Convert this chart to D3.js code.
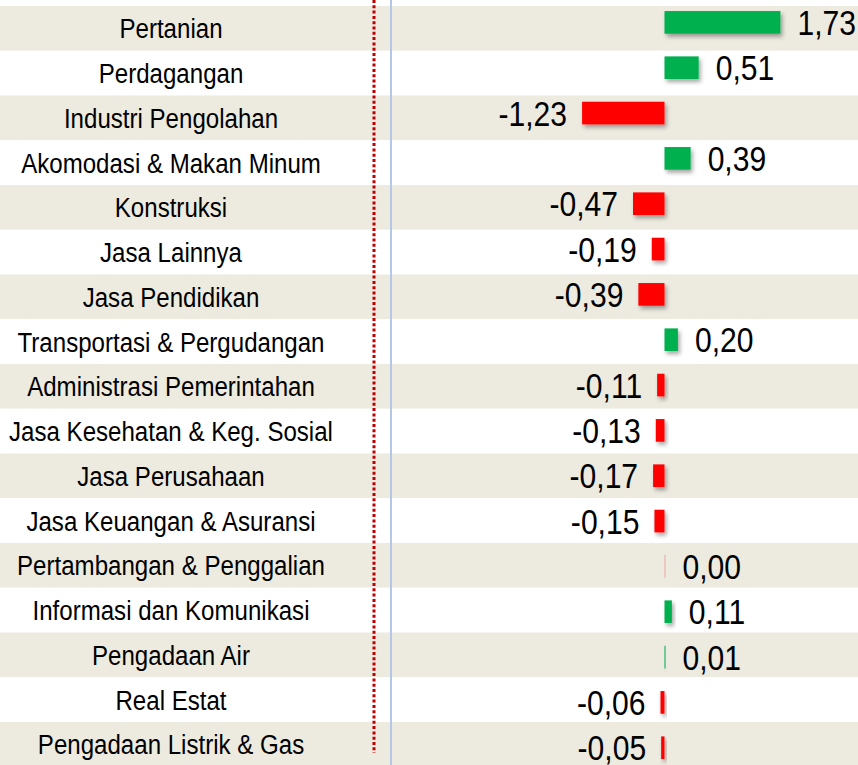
<!DOCTYPE html>
<html lang="id">
<head>
    <meta charset="UTF-8">
    <title>Andil sektor</title>
    <script src="https://d3js.org/d3.v7.min.js"></script>
    <style>
        body {
            margin: 0;
            padding: 0;
            background: #fff;
        }
        svg {
            display: block;
        }
        .cat {
            font-family: "Liberation Sans", Arial, sans-serif;
            font-size: 28px;
            fill: #000;
            text-anchor: middle;
        }
        .val {
            font-family: "Liberation Sans", Arial, sans-serif;
            font-size: 35px;
            fill: #000;
        }
    </style>
</head>
<body>
    <div id="chart"></div>

    <script>
        // sektor dan nilai andil
        const categories = [
            "Pertanian",
            "Perdagangan",
            "Industri Pengolahan",
            "Akomodasi & Makan Minum",
            "Konstruksi",
            "Jasa Lainnya",
            "Jasa Pendidikan",
            "Transportasi & Pergudangan",
            "Administrasi Pemerintahan",
            "Jasa Kesehatan & Keg. Sosial",
            "Jasa Perusahaan",
            "Jasa Keuangan & Asuransi",
            "Pertambangan & Penggalian",
            "Informasi dan Komunikasi",
            "Pengadaan Air",
            "Real Estat",
            "Pengadaan Listrik & Gas"
        ];
        const values = [1.73, 0.51, -1.23, 0.39, -0.47, -0.19, -0.39, 0.20, -0.11, -0.13, -0.17, -0.15, 0.00, 0.11, 0.01, -0.06, -0.05];

        const width = 858;
        const height = 765;
        const narrow = 0.86; // tiru huruf Arial Narrow

        const svg = d3.select("#chart")
            .append("svg")
            .attr("width", width)
            .attr("height", height);

        // bayangan batang
        const filter = svg.append("defs").append("filter")
            .attr("id", "shadow")
            .attr("x", "-50%").attr("y", "-50%")
            .attr("width", "200%").attr("height", "200%");
        filter.append("feDropShadow")
            .attr("dx", 2)
            .attr("dy", 3)
            .attr("stdDeviation", 2)
            .attr("flood-color", "#000")
            .attr("flood-opacity", 0.35);

        // baris latar (label kategori)
        const rowScale = d3.scaleBand()
            .domain(categories)
            .range([6, 6 + 17 * 44.75]);

        // posisi batang sedikit berbeda dari baris latar
        const barScale = d3.scaleBand()
            .domain(categories)
            .range([-0.27, 770.4])
            .paddingInner(0.5)
            .paddingOuter(0.25);

        const x = d3.scaleLinear()
            .domain([-2, 2.5])
            .range([530.5, 832]);

        const locale = d3.formatLocale({
            decimal: ",",
            thousands: ".",
            grouping: [3],
            currency: ["", ""],
            minus: "-"
        });
        const fmt = locale.format(".2f");

        // latar bergaris
        svg.selectAll("rect.row")
            .data(categories)
            .enter()
            .append("rect")
            .attr("class", "row")
            .attr("x", 0)
            .attr("y", d => rowScale(d))
            .attr("width", width)
            .attr("height", rowScale.bandwidth())
            .attr("fill", (d, i) => i % 2 === 0 ? "#edeae0" : "#ffffff");

        // garis pemisah
        svg.append("line")
            .attr("x1", 374).attr("x2", 374)
            .attr("y1", 0).attr("y2", 753)
            .attr("stroke", "#c00000")
            .attr("stroke-width", 3)
            .attr("stroke-dasharray", "3,2.3");

        svg.append("line")
            .attr("x1", 391).attr("x2", 391)
            .attr("y1", 0).attr("y2", height)
            .attr("stroke", "#b4c7e7")
            .attr("stroke-width", 2);

        // label kategori
        svg.selectAll("text.cat")
            .data(categories)
            .enter()
            .append("text")
            .attr("class", "cat")
            .attr("transform", d => `translate(171,${rowScale(d) + rowScale.bandwidth() / 2}) scale(${narrow},1)`)
            .attr("dy", "0.36em")
            .text(d => d);

        const data = categories.map((c, i) => ({ name: c, value: values[i] }));

        // batang
        svg.selectAll("rect.bar")
            .data(data)
            .enter()
            .append("rect")
            .attr("class", "bar")
            .attr("x", d => x(Math.min(0, d.value)))
            .attr("y", d => barScale(d.name))
            .attr("width", d => Math.max(1, Math.abs(x(d.value) - x(0))))
            .attr("height", barScale.bandwidth())
            .attr("fill", d => d.value > 0 ? "#00b050" : d.value < 0 ? "#ff0000" : "#f2a4a4")
            .attr("filter", d => d.value === 0 ? null : "url(#shadow)");

        // label nilai
        svg.selectAll("text.val")
            .data(data)
            .enter()
            .append("text")
            .attr("class", "val")
            .attr("transform", d => {
                const tx = d.value < 0 ? x(d.value) - 15 : Math.max(x(d.value), x(0) + 1) + 17;
                const ty = barScale(d.name) + barScale.bandwidth() / 2;
                return `translate(${tx},${ty}) scale(${narrow},1)`;
            })
            .attr("dy", "0.36em")
            .attr("text-anchor", d => d.value < 0 ? "end" : "start")
            .text(d => fmt(d.value));
    </script>
</body>
</html>
